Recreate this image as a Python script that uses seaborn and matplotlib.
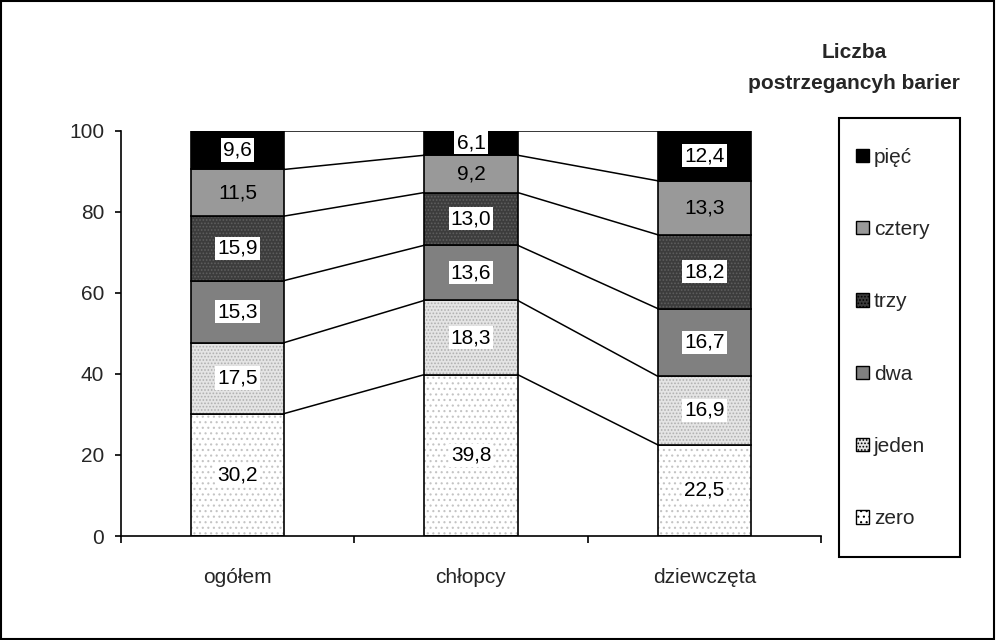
import numpy as np
import matplotlib.pyplot as plt
import matplotlib.patches as mpatches
import seaborn as sns

# data (percent of respondents)
groups = ['ogółem', 'chłopcy', 'dziewczęta']
series = ['zero', 'jeden', 'dwa', 'trzy', 'cztery', 'pięć']
zero = [30.2, 39.8, 22.5]
jeden = [17.5, 18.3, 16.9]
dwa = [15.3, 13.6, 16.7]
trzy = [15.9, 13.0, 18.2]
cztery = [11.5, 9.2, 13.3]
piec = [9.6, 6.1, 12.4]
values = [zero, jeden, dwa, trzy, cztery, piec]

# styles: facecolor, hatch, hatch colour, white label box
styles = {
    'zero':   ('#ffffff', '...', '#c4c4c4', True),
    'jeden':  ('#e4e4e4', '.....', '#b0b0b0', True),
    'dwa':    ('#808080', None, None, True),
    'trzy':   ('#3c3c3c', '.....', '#5e5e5e', True),
    'cztery': ('#999999', None, None, False),
    'pięć':   ('#000000', None, None, True),
}

sns.set_style('white')
plt.rcParams['font.family'] = ['Liberation Sans', 'DejaVu Sans']
plt.rcParams['hatch.linewidth'] = 0.8
fs = 15

fig = plt.figure(figsize=(9.96, 6.4), dpi=100)
ax = fig.add_axes([121 / 996, 1 - 536 / 640, 700 / 996, 405.5 / 640])

width = 0.4
bottom = np.zeros(len(groups))
levels = []
for name, vals in zip(series, values):
    fc, hatch, hc, box = styles[name]
    if hatch:
        sns.barplot(x=groups, y=vals, bottom=bottom, width=width, color=fc,
                    saturation=1, hatch=hatch, edgecolor=hc, linewidth=0, ax=ax)
    sns.barplot(x=groups, y=vals, bottom=bottom, width=width,
                color=fc if not hatch else 'none', fill=not hatch, saturation=1,
                edgecolor='black', linewidth=1.2, ax=ax)
    for i, v in enumerate(vals):
        kw = dict(ha='center', va='center', fontsize=fs, color='black')
        if box:
            kw['bbox'] = dict(facecolor='white', edgecolor='none', pad=1.5)
        ax.text(i, bottom[i] + v / 2, f'{v:.1f}'.replace('.', ','), **kw)
    bottom = bottom + np.array(vals)
    levels.append(bottom.copy())

# series lines between bars
for lev in levels:
    for i in range(len(groups) - 1):
        ax.plot([i + width / 2, i + 1 - width / 2], [lev[i], lev[i + 1]],
                color='black', lw=1.1, zorder=1)

ax.set_xlim(-0.5, 2.5)
ax.set_ylim(0, 100)
ax.set_yticks(range(0, 101, 20))
ax.set_xticks(range(len(groups)))
ax.set_xticklabels(groups)
ax.set_xticks([-0.5, 0.5, 1.5, 2.5], minor=True)
ax.tick_params(axis='y', left=True, length=4, width=1.2, pad=8, labelsize=fs, color='black')
ax.tick_params(axis='x', which='major', length=0, pad=23, labelsize=fs)
ax.tick_params(axis='x', which='minor', bottom=True, length=5, width=1.2, color='black')
for s in ['top', 'right']:
    ax.spines[s].set_visible(False)
for s in ['left', 'bottom']:
    ax.spines[s].set_color('black')
    ax.spines[s].set_linewidth(1.2)
ax.set_xlabel('')
ax.set_ylabel('')

# legend (frame drawn separately)
handles = []
for name in series[::-1]:
    fc, hatch, hc, box = styles[name]
    handles.append(mpatches.Patch(facecolor=fc, hatch=hatch, edgecolor='black',
                                  linewidth=1, label=name))
fig.legend(handles=handles, loc='center left',
           bbox_to_anchor=(856 / 996, 1 - 338 / 640), borderaxespad=0,
           borderpad=0, frameon=False, fontsize=fs, labelspacing=2.56,
           handlelength=0.6, handleheight=0.6, handletextpad=0.25)
fig.patches.append(mpatches.Rectangle((839 / 996, 1 - 557 / 640), 121 / 996, 439 / 640,
                                      transform=fig.transFigure, fill=False,
                                      edgecolor='black', linewidth=1.5))

fig.text(960 / 996, 1 - 68 / 640, 'Liczba\npostrzegancyh barier', ha='right',
         va='center', multialignment='center', fontsize=fs, fontweight='bold',
         linespacing=1.75)

# outer border
fig.patches.append(mpatches.Rectangle((0.001, 0.002), 0.997, 0.996, transform=fig.transFigure,
                                      fill=False, edgecolor='black', linewidth=1.5))

fig.savefig('out.png', dpi=100)
